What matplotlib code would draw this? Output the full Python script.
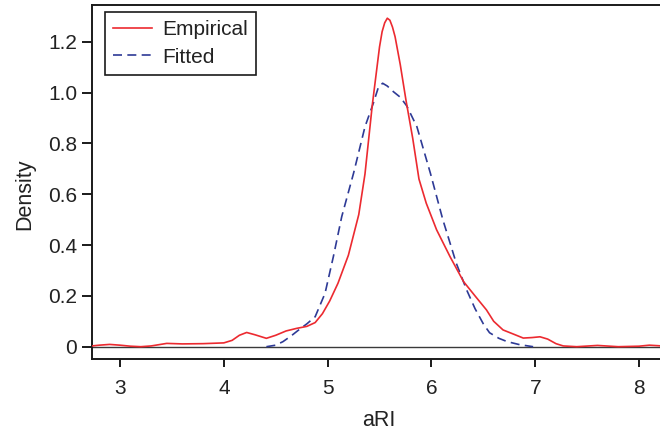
import matplotlib
matplotlib.use("Agg")
import matplotlib.pyplot as plt
from matplotlib.lines import Line2D

# Empirical density (red solid)
emp_x = [2.73, 2.8, 2.9, 3.0, 3.1, 3.2, 3.3, 3.45, 3.6, 3.8, 4.0, 4.08, 4.15, 4.22, 4.3,
         4.41, 4.5, 4.6, 4.7, 4.8, 4.88, 4.95, 5.02, 5.1, 5.2, 5.3, 5.36, 5.43, 5.5, 5.525,
         5.55, 5.575, 5.6, 5.625, 5.65, 5.7, 5.755, 5.82, 5.88, 5.95, 6.05, 6.18, 6.31, 6.42,
         6.53, 6.6, 6.69, 6.8, 6.885, 6.97, 7.046, 7.12, 7.2, 7.27, 7.4, 7.6, 7.8, 8.0, 8.1,
         8.26]
emp_y = [0.003, 0.006, 0.009, 0.006, 0.002, 0.0, 0.003, 0.013, 0.011, 0.012, 0.015, 0.025,
         0.045, 0.056, 0.047, 0.033, 0.045, 0.062, 0.072, 0.08, 0.095, 0.13, 0.18, 0.25,
         0.36, 0.52, 0.68, 0.95, 1.18, 1.24, 1.275, 1.293, 1.285, 1.258, 1.22, 1.11, 0.97,
         0.82, 0.66, 0.565, 0.46, 0.354, 0.256, 0.2, 0.145, 0.1, 0.066, 0.048, 0.034, 0.036,
         0.039, 0.03, 0.012, 0.003, 0.0, 0.005, 0.0, 0.002, 0.006, 0.002]

# Fitted density (blue dashed)
fit_x = [4.41, 4.5, 4.57, 4.65, 4.734, 4.8, 4.88, 4.975, 5.055, 5.136, 5.25, 5.36, 5.44,
         5.489, 5.53, 5.575, 5.633, 5.70, 5.762, 5.86, 5.99, 6.11, 6.24, 6.34, 6.42, 6.5,
         6.56, 6.65, 6.73, 6.85, 6.98]
fit_y = [0.0, 0.006, 0.02, 0.043, 0.07, 0.09, 0.118, 0.21, 0.354, 0.512, 0.683, 0.866,
         0.958, 1.021, 1.037, 1.026, 1.004, 0.982, 0.948, 0.866, 0.683, 0.5, 0.328, 0.223,
         0.15, 0.09, 0.055, 0.033, 0.02, 0.008, 0.0]

x_ticks = [3, 4, 5, 6, 7, 8]
y_ticks = [0.0, 0.2, 0.4, 0.6, 0.8, 1.0, 1.2]
y_ticklabels = ["0", "0.2", "0.4", "0.6", "0.8", "1.0", "1.2"]
series_labels = ["Empirical", "Fitted"]

plt.rcParams['font.family'] = ['Liberation Sans', 'DejaVu Sans']
W, H = 660, 429
fig = plt.figure(figsize=(W / 100, H / 100), dpi=100)
L, R, T, B = 92, 666, 5, 359
ax = fig.add_axes([L / W, 1 - B / H, (R - L) / W, (B - T) / H])

red = '#ec2a30'
blue = '#2e3a96'
ax.axhline(0, color='#3a3a3a', lw=1.0, zorder=1)
ax.plot(emp_x, emp_y, color=red, lw=1.2, zorder=3, solid_joinstyle='round')
ax.plot(fit_x, fit_y, color=blue, lw=1.2, linestyle=(0, (5.4, 3.2)), zorder=2)

ax.set_xlim(2.73, 8.26)
ax.set_ylim(-0.0484, 1.345)
ax.set_xticks(x_ticks)
ax.set_yticks(y_ticks)
ax.set_yticklabels(y_ticklabels)
for s in ['left', 'bottom', 'top']:
    ax.spines[s].set_linewidth(1.4)
    ax.spines[s].set_color('#1a1a1a')
ax.spines['right'].set_visible(False)
ax.tick_params(axis='both', labelsize=15, color='#1a1a1a', width=1.4, colors='#222222')
ax.tick_params(axis='y', length=7.2, pad=3.5)
ax.tick_params(axis='x', length=6, pad=8.5)

fig.text(379 / W, 1 - 420 / H, "aRI", ha='center', va='center', fontsize=15.5, color='#222222')
fig.text(25 / W, 1 - 194 / H, "Density", ha='center', va='center', rotation=90,
         fontsize=15.5, color='#222222')

handles = [Line2D([], [], color=red, lw=1.2),
           Line2D([], [], color=blue, lw=1.2, linestyle=(0, (5.4, 3.2)))]
leg = ax.legend(handles, series_labels, loc='upper left',
                bbox_to_anchor=(105 / W, 1 - 12 / H), bbox_transform=fig.transFigure,
                fancybox=False, edgecolor='#1a1a1a', framealpha=1, fontsize=15,
                handlelength=1.85, handletextpad=0.5, borderpad=0.4, labelspacing=0.4,
                borderaxespad=0)
leg.get_frame().set_linewidth(1.2)
for t in leg.get_texts():
    t.set_color('#222222')

fig.savefig("out.png", dpi=100)
